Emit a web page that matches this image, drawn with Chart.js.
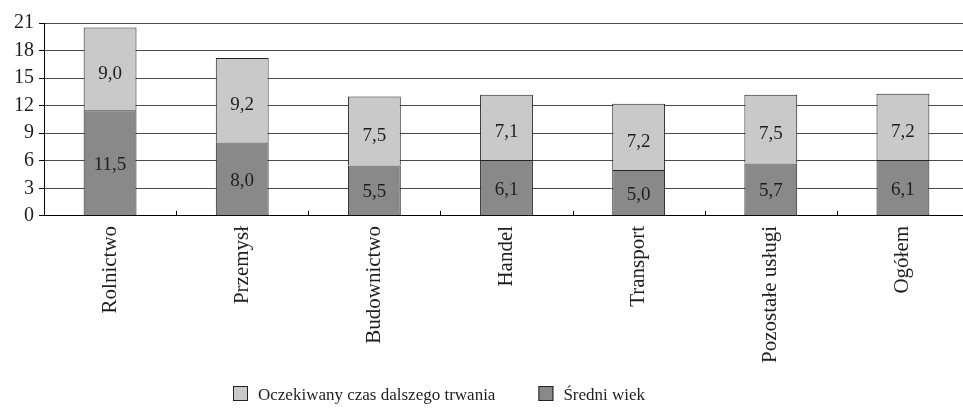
<!DOCTYPE html>
<html lang="pl">
<head>
<meta charset="utf-8">
<script src="https://cdn.jsdelivr.net/npm/chart.js@4/dist/chart.umd.min.js"></script>
<style>
  html, body { margin: 0; padding: 0; background: #fff; overflow: hidden; }
  #wrap { position: relative; width: 969px; height: 410px; }
</style>
</head>
<body>
<div id="wrap"><canvas id="chart"></canvas></div>
<script>
// Sektory gospodarki
const categories = ['Rolnictwo', 'Przemysł', 'Budownictwo', 'Handel', 'Transport', 'Pozostałe usługi', 'Ogółem'];
// Średni wiek (dolna część słupka)
const sredniWiek = [11.5, 8.0, 5.5, 6.1, 5.0, 5.7, 6.1];
// Oczekiwany czas dalszego trwania (górna część słupka)
const oczekiwanyCzas = [9.0, 9.2, 7.5, 7.1, 7.2, 7.5, 7.2];
// Podziałka osi Y
const yTicks = [0, 3, 6, 9, 12, 15, 18, 21];

const FONT = '"Liberation Serif", "DejaVu Serif", serif';
const TEXT = '#1e1e1e';

// Wartości wpisane w segmenty słupków (przecinek dziesiętny)
const valueLabels = {
  id: 'valueLabels',
  afterDatasetsDraw(chart) {
    const ctx = chart.ctx;
    ctx.save();
    ctx.font = '19px ' + FONT;
    ctx.fillStyle = TEXT;
    ctx.textAlign = 'center';
    ctx.textBaseline = 'middle';
    chart.data.datasets.forEach((ds, di) => {
      const meta = chart.getDatasetMeta(di);
      const shift = ds.labelShift || 0;
      meta.data.forEach((bar, i) => {
        const v = ds.data[i];
        const y = (bar.y + bar.base) / 2 + shift;
        ctx.fillText(v.toFixed(1).replace('.', ','), bar.x, y);
      });
    });
    ctx.restore();
  }
};

// Krótkie kreski na osi X między kategoriami, skierowane do wnętrza wykresu
const innerTicks = {
  id: 'innerTicks',
  afterDatasetsDraw(chart) {
    const xs = chart.scales.x;
    const area = chart.chartArea;
    const n = chart.data.labels.length;
    const step = n > 1 ? xs.getPixelForValue(1) - xs.getPixelForValue(0) : xs.width;
    const ctx = chart.ctx;
    ctx.save();
    ctx.strokeStyle = '#000';
    ctx.lineWidth = 1;
    for (let i = 0; i <= n; i++) {
      const x = Math.round(xs.getPixelForValue(0) - step / 2 + i * step) + 0.5;
      ctx.beginPath();
      ctx.moveTo(x, area.bottom);
      ctx.lineTo(x, area.bottom - 5);
      ctx.stroke();
    }
    ctx.restore();
  }
};

// Legenda pod wykresem: kwadrat w kolorze serii i opis
const bottomLegend = {
  id: 'bottomLegend',
  afterDraw(chart) {
    const ctx = chart.ctx;
    const o = chart.options.plugins.bottomLegend;
    ctx.save();
    ctx.font = o.fontSize + 'px ' + FONT;
    ctx.textBaseline = 'middle';
    ctx.textAlign = 'left';
    let x = o.left;
    const items = chart.data.datasets.slice().reverse();
    items.forEach((ds) => {
      ctx.fillStyle = ds.backgroundColor;
      ctx.fillRect(x, o.top, o.box, o.box);
      ctx.strokeStyle = '#222';
      ctx.lineWidth = 1;
      ctx.strokeRect(x + 0.5, o.top + 0.5, o.box - 1, o.box - 1);
      const tx = x + o.box + o.gap;
      ctx.fillStyle = TEXT;
      ctx.fillText(ds.label, tx, o.top + o.box / 2 + 2);
      x = tx + ctx.measureText(ds.label).width + o.spacing;
    });
    ctx.restore();
  }
};

new Chart(document.getElementById('chart'), {
  type: 'bar',
  data: {
    labels: categories,
    datasets: [
      {
        label: 'Średni wiek',
        data: sredniWiek,
        backgroundColor: '#898989',
        borderColor: '#222',
        borderWidth: 1,
        borderSkipped: false,
        labelShift: 2
      },
      {
        label: 'Oczekiwany czas dalszego trwania',
        data: oczekiwanyCzas,
        backgroundColor: '#c9c9c9',
        borderColor: '#222',
        borderWidth: 1,
        borderSkipped: 'bottom',
        labelShift: 5
      }
    ]
  },
  options: {
    responsive: true,
    maintainAspectRatio: false,
    animation: false,
    devicePixelRatio: 1,
    layout: { padding: { top: 23, left: 9, right: 0, bottom: 37 } },
    datasets: { bar: { categoryPercentage: 1.0, barPercentage: 0.4 } },
    plugins: {
      legend: { display: false },
      tooltip: { enabled: false },
      bottomLegend: { left: 233, top: 386, box: 15, gap: 10, spacing: 43, fontSize: 17 }
    },
    scales: {
      x: {
        stacked: true,
        grid: { display: true, drawOnChartArea: false, drawTicks: false },
        border: { display: true, color: '#000', width: 1 },
        ticks: {
          minRotation: 90,
          maxRotation: 90,
          autoSkip: false,
          padding: 10,
          color: TEXT,
          font: { family: FONT, size: 21 }
        }
      },
      y: {
        stacked: true,
        min: 0,
        max: 21,
        afterBuildTicks(scale) {
          scale.ticks = yTicks.map(v => ({ value: v }));
        },
        grid: {
          color: '#4a4a4a',
          lineWidth: 1,
          drawTicks: true,
          tickLength: 5,
          tickColor: '#000'
        },
        border: { display: true, color: '#000', width: 1 },
        ticks: {
          autoSkip: false,
          padding: 5,
          color: TEXT,
          font: { family: FONT, size: 20 }
        }
      }
    }
  },
  plugins: [valueLabels, innerTicks, bottomLegend]
});
</script>
</body>
</html>
